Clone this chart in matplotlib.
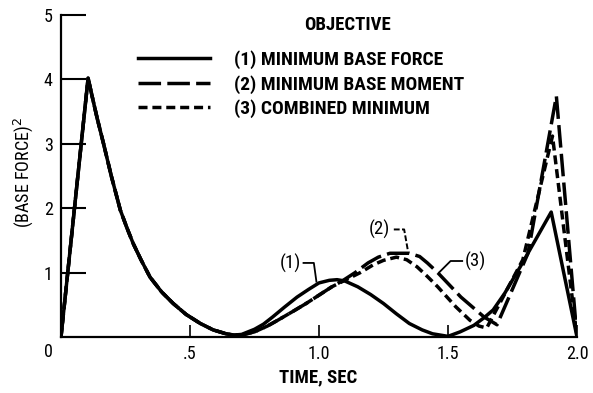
import numpy as np
import matplotlib
matplotlib.use("Agg")
from matplotlib import pyplot as plt
from matplotlib import font_manager as fm

# pick a narrow lettering face if the system has one
installed = {f.name for f in fm.fontManager.ttflist}
narrow = [n for n in ("Liberation Sans Narrow", "DejaVu Sans Condensed",
                      "Roboto Condensed", "Open Sans Condensed") if n in installed]
if narrow:
    plt.rcParams['font.family'] = [narrow[0], 'DejaVu Sans']
    fs = 13.5
else:
    plt.rcParams['font.family'] = ['DejaVu Sans']
    fs = 11

# (base force)^2 time histories for the three optimisation objectives
t_force = [0.0, 0.105, 0.12, 0.14, 0.165, 0.195, 0.23, 0.255, 0.28, 0.31, 0.345, 0.39,
           0.435, 0.485, 0.54, 0.59, 0.64, 0.67, 0.70, 0.75, 0.785, 0.82, 0.865, 0.915,
           0.96, 1.0, 1.04, 1.07, 1.10, 1.15, 1.2, 1.25, 1.30, 1.35, 1.40, 1.44, 1.5,
           1.547, 1.60, 1.64, 1.675, 1.72, 1.78, 1.845, 1.90, 2.0]
y_force = [0.0, 4.02, 3.75, 3.4, 3.0, 2.5, 1.97, 1.7, 1.45, 1.2, 0.93, 0.7,
           0.52, 0.35, 0.21, 0.11, 0.05, 0.03, 0.04, 0.12, 0.2, 0.31, 0.46, 0.62,
           0.74, 0.84, 0.88, 0.89, 0.87, 0.78, 0.66, 0.52, 0.36, 0.21, 0.11, 0.05, 0.01,
           0.08, 0.18, 0.3, 0.42, 0.68, 1.09, 1.55, 1.94, 0.0]

t_moment = [0.0, 0.105, 0.12, 0.14, 0.165, 0.195, 0.23, 0.255, 0.28, 0.31, 0.345, 0.39,
            0.435, 0.485, 0.54, 0.59, 0.64, 0.67, 0.70, 0.75, 0.80, 0.84, 0.90, 0.95,
            1.0, 1.05, 1.09, 1.14, 1.19, 1.23, 1.275, 1.35, 1.39, 1.42, 1.46, 1.55,
            1.64, 1.69, 1.81, 1.92, 2.0]
y_moment = [0.0, 4.02, 3.75, 3.4, 3.0, 2.5, 1.97, 1.7, 1.45, 1.2, 0.93, 0.7,
            0.52, 0.35, 0.21, 0.11, 0.05, 0.03, 0.03, 0.08, 0.17, 0.26, 0.40, 0.52,
            0.65, 0.78, 0.87, 1.0, 1.15, 1.24, 1.30, 1.30, 1.25, 1.15, 1.0, 0.62,
            0.31, 0.19, 1.3, 3.74, 0.0]

t_comb = [0.0, 0.105, 0.12, 0.14, 0.165, 0.195, 0.23, 0.255, 0.28, 0.31, 0.345, 0.39,
          0.435, 0.485, 0.54, 0.59, 0.64, 0.67, 0.70, 0.75, 0.80, 0.84, 0.90, 0.95,
          1.0, 1.05, 1.09, 1.16, 1.21, 1.25, 1.30, 1.34, 1.38, 1.42, 1.46, 1.53,
          1.585, 1.62, 1.65, 1.79, 1.905, 2.0]
y_comb = [0.0, 4.02, 3.75, 3.4, 3.0, 2.5, 1.97, 1.7, 1.45, 1.2, 0.93, 0.7,
          0.52, 0.35, 0.21, 0.11, 0.05, 0.03, 0.03, 0.08, 0.17, 0.26, 0.40, 0.52,
          0.65, 0.78, 0.86, 1.0, 1.12, 1.19, 1.24, 1.2, 1.09, 0.94, 0.78, 0.47,
          0.26, 0.17, 0.14, 1.2, 3.12, 0.0]

labels = ["(1) MINIMUM BASE FORCE", "(2) MINIMUM BASE MOMENT", "(3) COMBINED MINIMUM"]
x_ticks = [0.5, 1.0, 1.5, 2.0]
x_ticklabels = [".5", "1.0", "1.5", "2.0"]
y_ticks = [1, 2, 3, 4, 5]

fig = plt.figure(figsize=(5.93, 3.93), dpi=100)
ax = fig.add_axes([61 / 593, 1 - 337 / 393, 516 / 593, 322 / 393])

lw = 2.5
ax.plot(t_force, y_force, color="black", lw=lw, solid_joinstyle="round", label=labels[0])
ax.plot(t_moment, y_moment, color="black", lw=lw, dashes=(6.5, 1.8), label=labels[1])
ax.plot(t_comb, y_comb, color="black", lw=lw, dashes=(2.6, 1.4), label=labels[2])

ax.set_xlim(0, 2.0)
ax.set_ylim(0, 5)
for side in ("top", "right"):
    ax.spines[side].set_visible(False)
for side in ("left", "bottom"):
    ax.spines[side].set_linewidth(1.6)

ax.set_xticks(x_ticks)
ax.set_xticklabels(x_ticklabels)
ax.set_yticks(y_ticks)
ax.tick_params(axis="y", direction="in", length=18, width=1.5, pad=6, labelsize=fs - 0.5)
ax.tick_params(axis="x", direction="in", length=8.5, width=1.2, pad=6, labelsize=fs - 0.5)
ax.annotate("0", xy=(0, 0), xytext=(-9, -11), textcoords="offset points",
            ha="center", va="center", fontsize=fs - 0.5)

ax.set_xlabel("TIME, SEC", fontsize=fs, fontweight="bold")
ax.xaxis.set_label_coords(0.498, -0.096)
ax.set_ylabel("(BASE FORCE)$^2$", fontsize=fs - 0.5)
ax.yaxis.set_label_coords(-0.05, 0.51)

ax.text(1.11, 4.84, "OBJECTIVE", fontsize=fs, fontweight="bold", ha="center", va="center")
ax.legend(loc="upper left", bbox_to_anchor=(0.115, 0.945), frameon=False,
          handlelength=3.7, handletextpad=1.25, labelspacing=0.3,
          prop={"weight": "bold", "size": fs + 0.5})

# leader lines tying labels to curves
ax.text(0.89, 1.15, "(1)", fontsize=fs, ha="center", va="center")
ax.plot([0.94, 0.98, 0.99], [1.15, 1.15, 0.86], color="black", lw=1.3)
ax.text(1.235, 1.67, "(2)", fontsize=fs, ha="center", va="center")
ax.plot([1.29, 1.33, 1.345], [1.67, 1.67, 1.33], color="black", lw=1.4, dashes=(3, 1.2))
ax.text(1.605, 1.18, "(3)", fontsize=fs, ha="center", va="center")
ax.plot([1.555, 1.51, 1.465], [1.18, 1.18, 1.0], color="black", lw=1.3)

fig.savefig("out.png", dpi=100)
